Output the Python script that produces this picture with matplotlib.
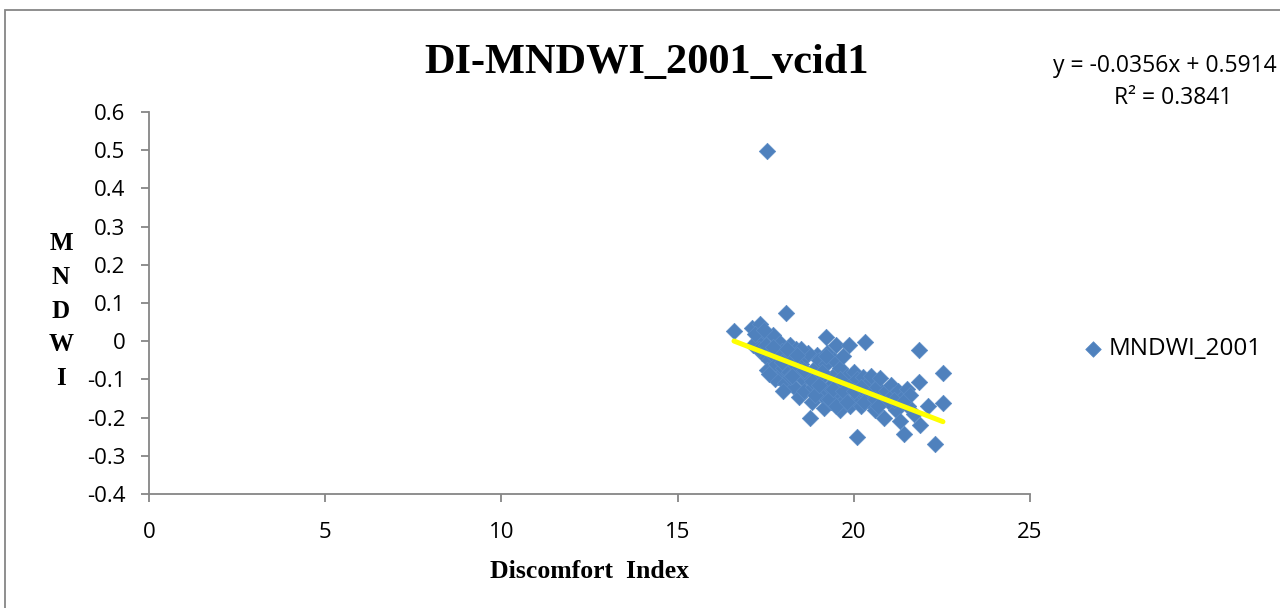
# DI vs MNDWI 2001 (vcid1) scatter with linear trend line, Excel-style
import numpy as np
import matplotlib
matplotlib.use("Agg")
import matplotlib.pyplot as plt
from matplotlib.patches import Rectangle

# ── data ────────────────────────────────────────────────────────────────────
di = [17.54, 16.60, 18.08, 17.10, 17.35, 17.45, 17.70, 17.90, 18.20, 18.35,
      17.25, 17.15, 17.40, 17.60, 17.55, 17.80, 17.85, 17.75, 18.00, 18.05,
      18.10, 18.25, 18.40, 18.30, 18.50, 18.55, 18.45, 18.60, 18.65, 18.70,
      18.75, 18.80, 18.85, 18.90, 18.95, 19.00, 19.05, 19.10, 19.15, 19.20,
      19.22, 19.25, 19.30, 19.35, 19.40, 19.45, 19.50, 19.55, 19.60, 19.62,
      19.65, 19.70, 19.75, 19.80, 19.85, 19.90, 19.95, 20.00, 20.05, 20.09,
      20.10, 20.15, 20.20, 20.25, 20.32, 20.35, 20.40, 20.45, 20.50, 20.55,
      20.60, 20.65, 20.74, 20.80, 20.85, 20.90, 21.00, 21.05, 21.10, 21.20,
      21.25, 21.30, 21.35, 21.42, 21.50, 21.55, 21.60, 21.70, 21.85, 21.85,
      21.88, 22.10, 22.31, 22.53, 22.53,
      17.30, 17.50, 17.65, 17.95, 18.15, 18.20, 18.35, 18.60, 18.80, 18.90,
      19.00, 19.10, 19.30, 19.40, 19.50, 19.70, 19.80, 20.00, 20.20, 20.30,
      20.60, 20.70, 21.15, 21.40, 19.60, 19.20, 18.70, 18.50, 17.90, 18.00,
      17.20, 17.45, 17.70, 18.10, 18.40, 17.60, 17.95, 18.25]
mndwi = [0.497, 0.026, 0.073, 0.035, 0.045, 0.012, 0.015, -0.005, -0.010, -0.020,
         0.000, -0.010, -0.030, -0.050, -0.075, -0.060, -0.095, -0.100, -0.070, -0.110,
         -0.040, -0.050, -0.080, -0.120, -0.060, -0.100, -0.145, -0.130, -0.040, -0.090,
         -0.200, -0.160, -0.120, -0.070, -0.035, -0.050, -0.100, -0.140, -0.175, 0.010,
         -0.060, -0.030, -0.120, -0.160, -0.090, -0.050, -0.010, -0.140, -0.180, -0.070,
         -0.110, -0.040, -0.150, -0.090, -0.010, -0.170, -0.120, -0.080, -0.150, -0.251,
         -0.100, -0.130, -0.170, -0.095, -0.003, -0.140, -0.110, -0.160, -0.090, -0.130,
         -0.180, -0.120, -0.097, -0.150, -0.200, -0.130, -0.160, -0.115, -0.140, -0.180,
         -0.130, -0.210, -0.150, -0.243, -0.125, -0.170, -0.140, -0.190, -0.024, -0.107,
         -0.220, -0.170, -0.270, -0.084, -0.162,
         -0.020, -0.010, -0.030, -0.025, -0.080, -0.095, -0.065, -0.075, -0.105, -0.140,
         -0.115, -0.080, -0.150, -0.125, -0.170, -0.130, -0.160, -0.130, -0.120, -0.160,
         -0.150, -0.170, -0.155, -0.160, -0.100, -0.040, -0.030, -0.020, -0.040, -0.130,
         0.020, 0.030, -0.015, -0.020, -0.035, -0.085, -0.055, -0.090]
slope, intercept = -0.0356, 0.5914
r2 = 0.3841

BLUE = "#4F81BD"
GREY = "#868686"
SANS = "Open Sans"
SERIF = "Liberation Serif"

fig = plt.figure(figsize=(12.8, 6.08), dpi=100)
fig.patch.set_facecolor("white")
ax = fig.add_axes([149 / 1280, 1 - 494 / 608, 881 / 1280, 382 / 608])

# marco exterior del grafico
fig.add_artist(Rectangle((5 / 1280, -0.05), 1.2, 1 - 10 / 608 + 0.05, transform=fig.transFigure,
                         fill=False, edgecolor=GREY, lw=1.3))

ax.scatter(di, mndwi, marker="D", s=70, color=BLUE, edgecolors="#5B8CC6", linewidths=0.5,
           zorder=3, label="MNDWI_2001")
xs = np.array([min(di), max(di)])
ax.plot(xs, slope * xs + intercept, color="#FFFF00", lw=3.6, solid_capstyle="round", zorder=4)

ax.set_xlim(0, 25)
ax.set_ylim(-0.4, 0.6)
ax.set_xticks(np.arange(0, 26, 5))
ax.set_yticks(np.round(np.arange(-0.4, 0.61, 0.1), 1))
ax.set_yticklabels(["-0.4", "-0.3", "-0.2", "-0.1", "0", "0.1", "0.2", "0.3", "0.4", "0.5", "0.6"])
for sp in ["top", "right"]:
    ax.spines[sp].set_visible(False)
for sp in ["left", "bottom"]:
    ax.spines[sp].set_color(GREY)
    ax.spines[sp].set_linewidth(1.3)
ax.tick_params(axis="both", colors=GREY, length=6, width=1.3, direction="out",
               labelcolor="black", labelsize=16)
ax.tick_params(axis="x", pad=14)
ax.tick_params(axis="y", pad=11)
for lab in ax.get_xticklabels() + ax.get_yticklabels():
    lab.set_fontfamily(SANS)

fig.text(647 / 1280, 1 - 63 / 608, "DI-MNDWI_2001_vcid1", family=SERIF, weight="bold",
         fontsize=30.5, ha="center", va="center")
fig.text(589 / 1280, 1 - 572 / 608, "Discomfort  Index", family=SERIF, weight="bold",
         fontsize=18.5, ha="center", va="center")
fig.text(61 / 1280, 1 - 311 / 608, "M\nN\nD\nW\nI", family=SERIF, weight="bold",
         fontsize=18, ha="center", va="center", linespacing=1.6)

fig.text(1277 / 1280, 1 - 66 / 608, "y = -0.0356x + 0.5914", family=SANS,
         fontsize=16.5, ha="right", va="center")
fig.text(1232 / 1280, 1 - 98 / 608, "R² = 0.3841", family=SANS,
         fontsize=16.5, ha="right", va="center")

fig.legend(loc="center left", bbox_to_anchor=(1059 / 1280, 1 - 349 / 608), frameon=False,
           prop={"family": SANS, "size": 17.5}, handletextpad=0.15, handlelength=1.0,
           markerscale=0.95)

fig.savefig("out.png", dpi=100, facecolor="white")
